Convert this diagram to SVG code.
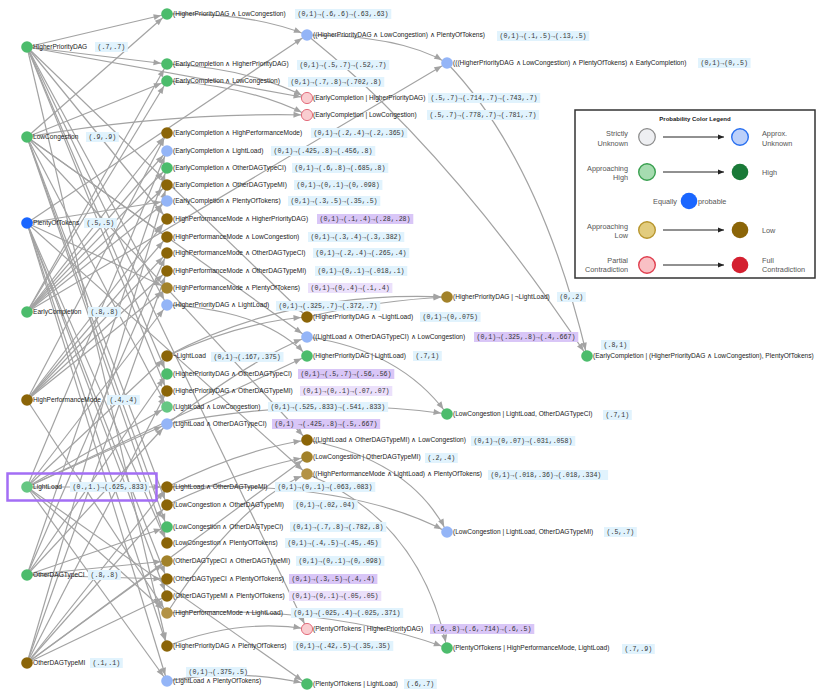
<svg xmlns="http://www.w3.org/2000/svg" width="830" height="694" viewBox="0 0 830 694">
<defs>
<marker id="arr" markerUnits="userSpaceOnUse" markerWidth="16" markerHeight="8" refX="13.5" refY="3" orient="auto" overflow="visible"><path d="M0,0L7.5,3L0,6z" fill="#a3a3a3"/></marker>
<marker id="larr" markerUnits="userSpaceOnUse" markerWidth="8" markerHeight="6" refX="6" refY="2.5" orient="auto" overflow="visible"><path d="M0,0L6,2.5L0,5z" fill="#222"/></marker>
<style>
.e path{fill:none;stroke:#a3a3a3;stroke-width:1.2}
.node circle{stroke:none}
.g{fill:#4cbc6c}.g2{fill:#66c783}.lb{fill:#94b5f7}.br{fill:#8b6508}.br2{fill:#a2822a}.br3{fill:#b39245}.bl{fill:#1a66ff}
.pk{fill:#f9cdd0;stroke:#e06070!important;stroke-width:0.9}
.t{font-family:"Liberation Sans",Arial,sans-serif;font-size:6.6px;fill:#222}
.vb{fill:#e1f3fd}.pp{fill:#d9c6f7}.lp{fill:#ebe0fb}
.vt{font-family:"Liberation Mono","DejaVu Sans Mono",monospace;font-size:6.6px;fill:#333}
.lg text{font-family:"Liberation Sans",Arial,sans-serif;font-size:7.3px;fill:#555}
.lt{font-family:"Liberation Sans",Arial,sans-serif;font-size:6px;font-weight:bold;fill:#222}
</style>
</defs>
<rect width="830" height="694" fill="#fff"/>
<g id="connectors" class="e" marker-end="url(#arr)">
<path d="M27 47L167 14"/><path d="M27 47L167 64"/><path d="M27 47L167 219"/><path d="M27 47L167 305"/><path d="M27 47L167 374"/><path d="M27 47L167 391"/><path d="M27 47L167 646"/>
<path d="M27 137L167 14"/><path d="M27 137L167 81"/><path d="M27 137L167 237"/><path d="M27 137L167 407"/><path d="M27 137L167 505"/><path d="M27 137L167 527"/><path d="M27 137L167 543"/>
<path d="M27 223L167 201"/><path d="M27 223L167 288"/><path d="M27 223L167 543"/><path d="M27 223L167 579"/><path d="M27 223L167 596"/><path d="M27 223L167 646"/><path d="M27 223L167 681"/>
<path d="M27 312L167 64"/><path d="M27 312L167 81"/><path d="M27 312L167 133"/><path d="M27 312L167 151"/><path d="M27 312L167 168"/><path d="M27 312L167 185"/><path d="M27 312L167 201"/>
<path d="M27 400L167 133"/><path d="M27 400L167 219"/><path d="M27 400L167 237"/><path d="M27 400L167 253"/><path d="M27 400L167 271"/><path d="M27 400L167 288"/><path d="M27 400L167 613"/>
<path d="M27 487L167 151"/><path d="M27 487L167 305"/><path d="M27 487L167 356"/><path d="M27 487L167 407"/><path d="M27 487L167 424"/><path d="M27 487L167 487"/><path d="M27 487L167 613"/><path d="M27 487L167 681"/>
<path d="M27 575L167 168"/><path d="M27 575L167 253"/><path d="M27 575L167 374"/><path d="M27 575L167 424"/><path d="M27 575L167 527"/><path d="M27 575L167 561"/><path d="M27 575L167 579"/>
<path d="M27 663L167 185"/><path d="M27 663L167 271"/><path d="M27 663L167 391"/><path d="M27 663L167 487"/><path d="M27 663L167 505"/><path d="M27 663L167 561"/><path d="M27 663L167 596"/>
<path d="M167 14Q250 12 307 35"/><path d="M27 223L307 35"/>
<path d="M167 64Q250 68 307 98"/><path d="M27 47L307 98"/>
<path d="M167 81Q250 86 307 115"/><path d="M27 137Q170 112 307 115"/>
<path d="M27 47L307 317"/><path d="M167 356Q240 322 307 317"/>
<path d="M167 424Q250 360 307 337"/><path d="M27 137L307 337"/>
<path d="M167 305Q265 310 307 356"/><path d="M27 487L307 356"/>
<path d="M167 487Q240 450 307 440"/><path d="M27 137L307 440"/>
<path d="M167 505Q240 470 307 457"/><path d="M27 663L307 457"/>
<path d="M167 613Q240 500 307 474"/><path d="M27 223L307 474"/>
<path d="M167 646Q240 618 307 629"/><path d="M27 47L307 629"/>
<path d="M167 681Q240 668 307 684"/><path d="M27 487L307 684"/>
<path d="M307 35Q400 35 447 63"/><path d="M27 312L447 63"/>
<path d="M307 317Q380 300 447 297"/><path d="M167 356Q290 290 447 297"/>
<path d="M307 337Q400 350 447 414"/><path d="M167 424Q320 395 447 414"/>
<path d="M307 440Q410 460 447 532"/><path d="M167 487Q350 480 447 532"/>
<path d="M307 474Q420 520 447 648"/><path d="M167 613Q330 605 447 648"/>
<path d="M447 63Q540 160 587 356"/><path d="M307 35Q450 150 587 356"/>
</g>
<g id="n-hpd" class="node"><circle class="g" cx="27" cy="47" r="5.8"/><text class="t" x="33" y="49.4">HigherPriorityDAG</text><rect class="vb" x="95" y="42" width="32.8" height="10"/><text class="vt" x="97.5" y="49.3">(.7,.7)</text></g>
<g id="n-lc" class="node"><circle class="g" cx="27" cy="137" r="5.8"/><text class="t" x="33" y="139.4">LowCongestion</text><rect class="vb" x="86" y="132" width="32.8" height="10"/><text class="vt" x="88.5" y="139.3">(.9,.9)</text></g>
<g id="n-pot" class="node"><circle class="bl" cx="27" cy="223" r="5.8"/><text class="t" x="33" y="225.4">PlentyOfTokens</text><rect class="vb" x="84" y="218" width="32.8" height="10"/><text class="vt" x="86.5" y="225.3">(.5,.5)</text></g>
<g id="n-ec" class="node"><circle class="g" cx="27" cy="312" r="5.8"/><text class="t" x="33" y="314.4">EarlyCompletion</text><rect class="vb" x="88" y="307" width="32.8" height="10"/><text class="vt" x="90.5" y="314.3">(.8,.8)</text></g>
<g id="n-hpm" class="node"><circle class="br" cx="27" cy="400" r="5.8"/><text class="t" x="33" y="402.4">HighPerformanceMode</text><rect class="vb" x="107" y="395" width="32.8" height="10"/><text class="vt" x="109.5" y="402.3">(.4,.4)</text></g>
<g id="n-ll" class="node"><rect x="7.5" y="473.5" width="149" height="27" fill="none" stroke="#a36ef5" stroke-width="2.5"/><circle class="g2" cx="27" cy="487" r="5.8"/><text class="t" x="33" y="489.4">LightLoad</text><rect class="vb" x="70" y="482" width="79" height="10"/><text class="vt" x="72.5" y="489.3">(0.,1.)→(.625,.833)</text></g>
<g id="n-ci" class="node"><circle class="g" cx="27" cy="575" r="5.8"/><text class="t" x="33" y="577.4">OtherDAGTypeCI</text><rect class="vb" x="88" y="570" width="32.8" height="10"/><text class="vt" x="90.5" y="577.3">(.8,.8)</text></g>
<g id="n-mi" class="node"><circle class="br" cx="27" cy="663" r="5.8"/><text class="t" x="33" y="665.4">OtherDAGTypeMI</text><rect class="vb" x="90" y="658" width="32.8" height="10"/><text class="vt" x="92.5" y="665.3">(.1,.1)</text></g>
<g id="a1" class="node"><circle class="g" cx="167" cy="14" r="5.8"/><text class="t" x="173" y="16.4">(HigherPriorityDAG ∧ LowCongestion)</text><rect class="vb" x="295" y="9" width="96.3" height="10"/><text class="vt" x="297.5" y="16.3">(0,1)→(.6,.6)→(.63,.63)</text></g>
<g id="a2" class="node"><circle class="g" cx="167" cy="64" r="5.8"/><text class="t" x="173" y="66.4">(EarlyCompletion ∧ HigherPriorityDAG)</text><rect class="vb" x="297" y="60" width="92.3" height="10"/><text class="vt" x="299.5" y="67.3">(0,1)→(.5,.7)→(.52,.7)</text></g>
<g id="a3" class="node"><circle class="g" cx="167" cy="81" r="5.8"/><text class="t" x="173" y="83.4">(EarlyCompletion ∧ LowCongestion)</text><rect class="vb" x="288" y="77" width="96.3" height="10"/><text class="vt" x="290.5" y="84.3">(0,1)→(.7,.8)→(.702,.8)</text></g>
<g id="a4" class="node"><circle class="br" cx="167" cy="133" r="5.8"/><text class="t" x="173" y="135.4">(EarlyCompletion ∧ HighPerformanceMode)</text><rect class="vb" x="311" y="128" width="96.3" height="10"/><text class="vt" x="313.5" y="135.3">(0,1)→(.2,.4)→(.2,.365)</text></g>
<g id="a5" class="node"><circle class="lb" cx="167" cy="151" r="5.8"/><text class="t" x="173" y="153.4">(EarlyCompletion ∧ LightLoad)</text><rect class="vb" x="271" y="146" width="104.3" height="10"/><text class="vt" x="273.5" y="153.3">(0,1)→(.425,.8)→(.456,.8)</text></g>
<g id="a6" class="node"><circle class="g" cx="167" cy="168" r="5.8"/><text class="t" x="173" y="170.4">(EarlyCompletion ∧ OtherDAGTypeCI)</text><rect class="vb" x="292" y="163" width="96.3" height="10"/><text class="vt" x="294.5" y="170.3">(0,1)→(.6,.8)→(.685,.8)</text></g>
<g id="a7" class="node"><circle class="br" cx="167" cy="185" r="5.8"/><text class="t" x="173" y="187.4">(EarlyCompletion ∧ OtherDAGTypeMI)</text><rect class="vb" x="294" y="180" width="88.4" height="10"/><text class="vt" x="296.5" y="187.3">(0,1)→(0,.1)→(0,.098)</text></g>
<g id="a8" class="node"><circle class="lb" cx="167" cy="201" r="5.8"/><text class="t" x="173" y="203.4">(EarlyCompletion ∧ PlentyOfTokens)</text><rect class="vb" x="288" y="196" width="92.3" height="10"/><text class="vt" x="290.5" y="203.3">(0,1)→(.3,.5)→(.35,.5)</text></g>
<g id="a9" class="node"><circle class="br" cx="167" cy="219" r="5.8"/><text class="t" x="173" y="221.4">(HighPerformanceMode ∧ HigherPriorityDAG)</text><rect class="pp" x="317" y="214" width="96.3" height="10"/><text class="vt" x="319.5" y="221.3">(0,1)→(.1,.4)→(.28,.28)</text></g>
<g id="a10" class="node"><circle class="br" cx="167" cy="237" r="5.8"/><text class="t" x="173" y="239.4">(HighPerformanceMode ∧ LowCongestion)</text><rect class="vb" x="308" y="232" width="96.3" height="10"/><text class="vt" x="310.5" y="239.3">(0,1)→(.3,.4)→(.3,.382)</text></g>
<g id="a11" class="node"><circle class="br" cx="167" cy="253" r="5.8"/><text class="t" x="173" y="255.4">(HighPerformanceMode ∧ OtherDAGTypeCI)</text><rect class="vb" x="313" y="248" width="96.3" height="10"/><text class="vt" x="315.5" y="255.3">(0,1)→(.2,.4)→(.265,.4)</text></g>
<g id="a12" class="node"><circle class="br" cx="167" cy="271" r="5.8"/><text class="t" x="173" y="273.4">(HighPerformanceMode ∧ OtherDAGTypeMI)</text><rect class="vb" x="315" y="266" width="92.3" height="10"/><text class="vt" x="317.5" y="273.3">(0,1)→(0,.1)→(.018,.1)</text></g>
<g id="a13" class="node"><circle class="br2" cx="167" cy="288" r="5.8"/><text class="t" x="173" y="290.4">(HighPerformanceMode ∧ PlentyOfTokens)</text><rect class="lp" x="308" y="283" width="84.4" height="10"/><text class="vt" x="310.5" y="290.3">(0,1)→(0,.4)→(.1,.4)</text></g>
<g id="a14" class="node"><circle class="lb" cx="167" cy="305" r="5.8"/><text class="t" x="173" y="307.4">(HigherPriorityDAG ∧ LightLoad)</text><rect class="vb" x="276" y="301" width="104.3" height="10"/><text class="vt" x="278.5" y="308.3">(0,1)→(.325,.7)→(.372,.7)</text></g>
<g id="a15" class="node"><circle class="br" cx="167" cy="356" r="5.8"/><text class="t" x="173" y="358.4">¬LightLoad</text><rect class="vb" x="211" y="352" width="72.5" height="10"/><text class="vt" x="213.5" y="359.3">(0,1)→(.167,.375)</text></g>
<g id="a16" class="node"><circle class="g" cx="167" cy="374" r="5.8"/><text class="t" x="173" y="376.4">(HigherPriorityDAG ∧ OtherDAGTypeCI)</text><rect class="pp" x="298" y="369" width="96.3" height="10"/><text class="vt" x="300.5" y="376.3">(0,1)→(.5,.7)→(.56,.56)</text></g>
<g id="a17" class="node"><circle class="br" cx="167" cy="391" r="5.8"/><text class="t" x="173" y="393.4">(HigherPriorityDAG ∧ OtherDAGTypeMI)</text><rect class="lp" x="300" y="386" width="92.3" height="10"/><text class="vt" x="302.5" y="393.3">(0,1)→(0,.1)→(.07,.07)</text></g>
<g id="a18" class="node"><circle class="g2" cx="167" cy="407" r="5.8"/><text class="t" x="173" y="409.4">(LightLoad ∧ LowCongestion)</text><rect class="vb" x="268" y="402" width="120.1" height="10"/><text class="vt" x="270.5" y="409.3">(0,1)→(.525,.833)→(.541,.833)</text></g>
<g id="a19" class="node"><circle class="lb" cx="167" cy="424" r="5.8"/><text class="t" x="173" y="426.4">(LightLoad ∧ OtherDAGTypeCI)</text><rect class="pp" x="272" y="419" width="108.2" height="10"/><text class="vt" x="274.5" y="426.3">(0,1) →(.425,.8)→(.5,.667)</text></g>
<g id="a20" class="node"><circle class="br" cx="167" cy="487" r="5.8"/><text class="t" x="173" y="489.4">(LightLoad ∧ OtherDAGTypeMI)</text><rect class="vb" x="275" y="482" width="100.3" height="10"/><text class="vt" x="277.5" y="489.3">(0,1)→(0,.1)→(.063,.083)</text></g>
<g id="a21" class="node"><circle class="br" cx="167" cy="505" r="5.8"/><text class="t" x="173" y="507.4">(LowCongestion ∧ OtherDAGTypeMI)</text><rect class="vb" x="293" y="500" width="64.6" height="10"/><text class="vt" x="295.5" y="507.3">(0,1)→(.02,.04)</text></g>
<g id="a22" class="node"><circle class="g" cx="167" cy="527" r="5.8"/><text class="t" x="173" y="529.4">(LowCongestion ∧ OtherDAGTypeCI)</text><rect class="vb" x="290" y="522" width="96.3" height="10"/><text class="vt" x="292.5" y="529.3">(0,1)→(.7,.8)→(.782,.8)</text></g>
<g id="a23" class="node"><circle class="br" cx="167" cy="543" r="5.8"/><text class="t" x="173" y="545.4">(LowCongestion ∧ PlentyOfTokens)</text><rect class="vb" x="285" y="538" width="96.3" height="10"/><text class="vt" x="287.5" y="545.3">(0,1)→(.4,.5)→(.45,.45)</text></g>
<g id="a24" class="node"><circle class="br2" cx="167" cy="561" r="5.8"/><text class="t" x="173" y="563.4">(OtherDAGTypeCI ∧ OtherDAGTypeMI)</text><rect class="vb" x="296" y="556" width="88.4" height="10"/><text class="vt" x="298.5" y="563.3">(0,1)→(0,.1)→(0,.098)</text></g>
<g id="a25" class="node"><circle class="br" cx="167" cy="579" r="5.8"/><text class="t" x="173" y="581.4">(OtherDAGTypeCI ∧ PlentyOfTokens)</text><rect class="pp" x="289" y="574" width="88.4" height="10"/><text class="vt" x="291.5" y="581.3">(0,1)→(.3,.5)→(.4,.4)</text></g>
<g id="a26" class="node"><circle class="br" cx="167" cy="596" r="5.8"/><text class="t" x="173" y="598.4">(OtherDAGTypeMI ∧ PlentyOfTokens)</text><rect class="lp" x="289" y="591" width="92.3" height="10"/><text class="vt" x="291.5" y="598.3">(0,1)→(0,.1)→(.05,.05)</text></g>
<g id="a27" class="node"><circle class="br3" cx="167" cy="613" r="5.8"/><text class="t" x="173" y="615.4">(HighPerformanceMode ∧ LightLoad)</text><rect class="vb" x="291" y="608" width="112.2" height="10"/><text class="vt" x="293.5" y="615.3">(0,1)→(.025,.4)→(.025,.371)</text></g>
<g id="a28" class="node"><circle class="br" cx="167" cy="646" r="5.8"/><text class="t" x="173" y="648.4">(HigherPriorityDAG ∧ PlentyOfTokens)</text><rect class="vb" x="293" y="641" width="100.3" height="10"/><text class="vt" x="295.5" y="648.3">(0,1)→(.42,.5)→(.35,.35)</text></g>
<g id="a29" class="node"><circle class="lb" cx="167" cy="681" r="5.8"/><text class="t" x="173" y="683.4">(LightLoad ∧ PlentyOfTokens)</text><rect class="vb" x="186" y="667" width="60.6" height="10"/><text class="vt" x="188.5" y="674.3">(0,1)→(.375,.5)</text></g>
<g id="b1" class="node"><circle class="lb" cx="307" cy="35" r="5.8"/><text class="t" x="313" y="37.4">((HigherPriorityDAG ∧ LowCongestion) ∧ PlentyOfTokens)</text><rect class="vb" x="497" y="31" width="92.3" height="10"/><text class="vt" x="499.5" y="38.3">(0,1)→(.1,.5)→(.13,.5)</text></g>
<g id="b2" class="node"><circle class="pk" cx="307" cy="98" r="5.6"/><text class="t" x="313" y="100.4">(EarlyCompletion | HigherPriorityDAG)</text><rect class="vb" x="428" y="93" width="112.2" height="10"/><text class="vt" x="430.5" y="100.3">(.5,.7)→(.714,.7)→(.743,.7)</text></g>
<g id="b3" class="node"><circle class="pk" cx="307" cy="115" r="5.6"/><text class="t" x="313" y="117.4">(EarlyCompletion | LowCongestion)</text><rect class="vb" x="427" y="110" width="112.2" height="10"/><text class="vt" x="429.5" y="117.3">(.5,.7)→(.778,.7)→(.781,.7)</text></g>
<g id="b4" class="node"><circle class="br" cx="307" cy="317" r="5.8"/><text class="t" x="313" y="319.4">(HigherPriorityDAG ∧ ¬LightLoad)</text><rect class="vb" x="420" y="312" width="60.6" height="10"/><text class="vt" x="422.5" y="319.3">(0,1)→(0,.075)</text></g>
<g id="b5" class="node"><circle class="lb" cx="307" cy="337" r="5.8"/><text class="t" x="313" y="339.4">((LightLoad ∧ OtherDAGTypeCI) ∧ LowCongestion)</text><rect class="pp" x="474" y="332" width="104.3" height="10"/><text class="vt" x="476.5" y="339.3">(0,1)→(.325,.8)→(.4,.667)</text></g>
<g id="b6" class="node"><circle class="g" cx="307" cy="356" r="5.8"/><text class="t" x="313" y="358.4">(HigherPriorityDAG | LightLoad)</text><rect class="vb" x="413" y="351" width="28.8" height="10"/><text class="vt" x="415.5" y="358.3">(.7,1)</text></g>
<g id="b7" class="node"><circle class="br" cx="307" cy="440" r="5.8"/><text class="t" x="313" y="442.4">((LightLoad ∧ OtherDAGTypeMI) ∧ LowCongestion)</text><rect class="vb" x="471" y="436" width="104.3" height="10"/><text class="vt" x="473.5" y="443.3">(0,1)→(0,.07)→(.031,.058)</text></g>
<g id="b8" class="node"><circle class="br2" cx="307" cy="457" r="5.8"/><text class="t" x="313" y="459.4">(LowCongestion | OtherDAGTypeMI)</text><rect class="vb" x="425" y="453" width="32.8" height="10"/><text class="vt" x="427.5" y="460.3">(.2,.4)</text></g>
<g id="b9" class="node"><circle class="br3" cx="307" cy="474" r="5.8"/><text class="t" x="313" y="476.4">((HighPerformanceMode ∧ LightLoad) ∧ PlentyOfTokens)</text><rect class="vb" x="488" y="470" width="120.1" height="10"/><text class="vt" x="490.5" y="477.3">(0,1)→(.018,.36)→(.018,.334)</text></g>
<g id="b10" class="node"><circle class="pk" cx="307" cy="629" r="5.6"/><text class="t" x="313" y="631.4">(PlentyOfTokens | HigherPriorityDAG)</text><rect class="pp" x="430" y="624" width="104.3" height="10"/><text class="vt" x="432.5" y="631.3">(.6,.8)→(.6,.714)→(.6,.5)</text></g>
<g id="b11" class="node"><circle class="g" cx="307" cy="684" r="5.8"/><text class="t" x="313" y="686.4">(PlentyOfTokens | LightLoad)</text><rect class="vb" x="404" y="679" width="32.8" height="10"/><text class="vt" x="406.5" y="686.3">(.6,.7)</text></g>
<g id="c1" class="node"><circle class="lb" cx="447" cy="63" r="5.8"/><text class="t" x="453" y="65.4">(((HigherPriorityDAG ∧ LowCongestion) ∧ PlentyOfTokens) ∧ EarlyCompletion)</text><rect class="vb" x="698" y="58" width="52.6" height="10"/><text class="vt" x="700.5" y="65.3">(0,1)→(0,.5)</text></g>
<g id="c2" class="node"><circle class="br2" cx="447" cy="297" r="5.8"/><text class="t" x="453" y="299.4">(HigherPriorityDAG | ¬LightLoad)</text><rect class="vb" x="557" y="292" width="28.8" height="10"/><text class="vt" x="559.5" y="299.3">(0,.2)</text></g>
<g id="c3" class="node"><circle class="g" cx="447" cy="414" r="5.8"/><text class="t" x="453" y="416.4">(LowCongestion | LightLoad, OtherDAGTypeCI)</text><rect class="vb" x="603" y="410" width="28.8" height="10"/><text class="vt" x="605.5" y="417.3">(.7,1)</text></g>
<g id="c4" class="node"><circle class="lb" cx="447" cy="532" r="5.8"/><text class="t" x="453" y="534.4">(LowCongestion | LightLoad, OtherDAGTypeMI)</text><rect class="vb" x="604" y="527" width="32.8" height="10"/><text class="vt" x="606.5" y="534.3">(.5,.7)</text></g>
<g id="c5" class="node"><circle class="g" cx="447" cy="648" r="5.8"/><text class="t" x="453" y="650.4">(PlentyOfTokens | HighPerformanceMode, LightLoad)</text><rect class="vb" x="622" y="644" width="32.8" height="10"/><text class="vt" x="624.5" y="651.3">(.7,.9)</text></g>
<g id="d1" class="node"><circle class="g" cx="587" cy="356" r="5.8"/><text class="t" x="593" y="358.4">(EarlyCompletion | (HigherPriorityDAG ∧ LowCongestion), PlentyOfTokens)</text><rect class="vb" x="601" y="340" width="28.8" height="10"/><text class="vt" x="603.5" y="347.3">(.8,1)</text></g>
<g id="legend">
<rect x="575" y="110" width="240" height="168" fill="#fff" stroke="#333" stroke-width="1.5"/>
<text class="lt" x="695" y="120.5" text-anchor="middle">Probability Color Legend</text>
<g class="lg" text-anchor="end">
<text x="628" y="135.5">Strictly</text><text x="628" y="145.5">Unknown</text>
<text x="628" y="170.5">Approaching</text><text x="628" y="180">High</text>
<text x="677" y="203.5">Equally</text>
<text x="628" y="228.5">Approaching</text><text x="628" y="238">Low</text>
<text x="628" y="262.5">Partial</text><text x="628" y="272">Contradiction</text>
</g>
<g class="lg">
<text x="762" y="135.5">Approx.</text><text x="762" y="145.5">Unknown</text>
<text x="762" y="174.5">High</text>
<text x="698" y="203.5">probable</text>
<text x="762" y="232.5">Low</text>
<text x="762" y="262.5">Full</text><text x="762" y="272">Contradiction</text>
</g>
<g stroke="#222" stroke-width="1" marker-end="url(#larr)">
<line x1="663" y1="137" x2="724" y2="137"/><line x1="663" y1="172" x2="724" y2="172"/><line x1="663" y1="230" x2="724" y2="230"/><line x1="663" y1="265" x2="724" y2="265"/>
</g>
<circle cx="647" cy="137" r="8.3" fill="#eeeff2" stroke="#888" stroke-width="1.2"/>
<circle cx="740" cy="137" r="8.3" fill="#bcd0fa" stroke="#2a70f0" stroke-width="1.4"/>
<circle cx="647" cy="172" r="8.3" fill="#a6dcb0" stroke="#3aa050" stroke-width="1.4"/>
<circle cx="740" cy="172" r="8.3" fill="#1a7a38"/>
<circle cx="689" cy="201" r="8.3" fill="#1a66ff"/>
<circle cx="647" cy="230" r="8.3" fill="#e2cc7e" stroke="#b8962e" stroke-width="1.4"/>
<circle cx="740" cy="230" r="8.3" fill="#8b6508"/>
<circle cx="647" cy="265" r="8.3" fill="#f9c0c4" stroke="#e04050" stroke-width="1.4"/>
<circle cx="740" cy="265" r="8.3" fill="#d42030"/>
</g>
</svg>
